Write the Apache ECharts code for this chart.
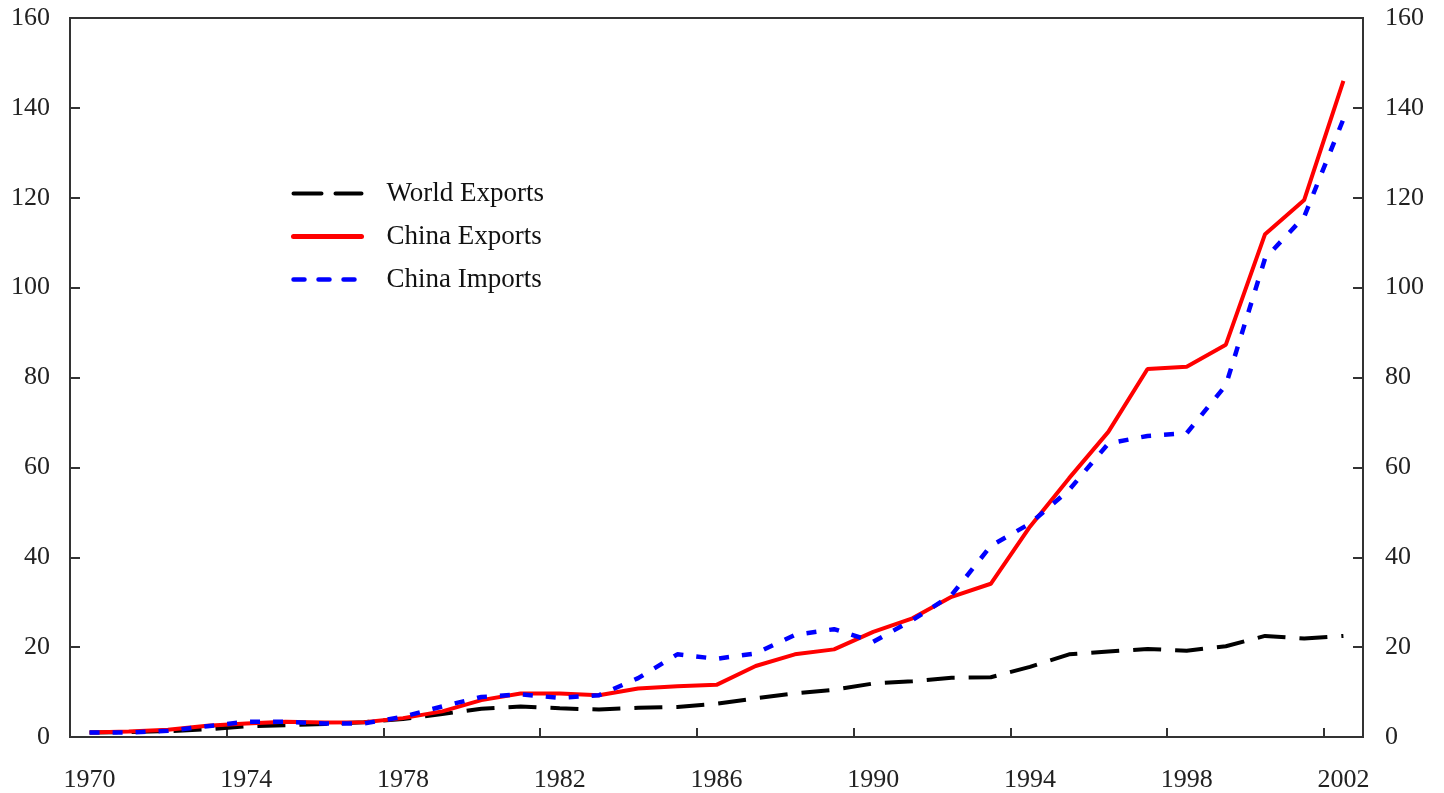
<!DOCTYPE html>
<html>
<head>
<meta charset="utf-8">
<script src="https://cdn.jsdelivr.net/npm/echarts@6/dist/echarts.min.js"></script>
<style>html,body{margin:0;padding:0;background:#fff;}#c{width:1444px;height:793px;}</style>
</head>
<body>
<div id="c"></div>
<script>
var years = ['1970','1971','1972','1973','1974','1975','1976','1977','1978','1979','1980','1981','1982','1983','1984','1985','1986','1987','1988','1989','1990','1991','1992','1993','1994','1995','1996','1997','1998','1999','2000','2001','2002'];
var worldExports = [1.0,1.1,1.3,1.7,2.4,2.6,2.9,3.3,4.0,5.1,6.3,6.8,6.4,6.1,6.5,6.7,7.4,8.6,9.7,10.5,11.9,12.4,13.2,13.3,15.6,18.4,19.0,19.6,19.2,20.2,22.5,21.9,22.5];
var chinaExports = [1.0,1.2,1.6,2.5,3.0,3.4,3.2,3.3,4.2,5.7,8.2,9.7,9.7,9.3,10.8,11.3,11.6,15.8,18.4,19.5,23.4,26.4,31.2,34.1,46.8,57.6,67.9,81.9,82.4,87.3,111.9,119.5,146.0];
var chinaImports = [1.0,1.0,1.4,2.4,3.4,3.4,3.0,3.0,4.5,6.8,8.9,9.5,8.7,9.3,13.1,18.4,17.4,18.6,22.7,24.0,21.2,26.0,31.6,42.5,47.5,55.0,65.3,67.0,67.6,78.3,106.5,115.8,137.5];

var font = 'Liberation Serif';
var axisLine = {show: true, lineStyle: {color: '#333', width: 2}};
var styles = {
  'World Exports': {color: '#000', width: 4, type: [28, 14]},
  'China Exports': {color: '#ff0000', width: 5, type: 'solid'},
  'China Imports': {color: '#0000ff', width: 4.5, type: [11, 14]}
};
var chart = echarts.init(document.getElementById('c'));
chart.setOption({
  animation: false,
  backgroundColor: '#fff',
  textStyle: {fontFamily: font},
  grid: {left: 70, right: 81, top: 18, bottom: 56, show: true, borderColor: '#333', borderWidth: 2, containLabel: false},
  legend: {
    orient: 'vertical', left: 286, top: 175,
    itemWidth: 68, itemHeight: 14, itemGap: 16,
    itemStyle: {opacity: 0},
    textStyle: {fontFamily: font, fontSize: 27, color: '#111', padding: [0, 0, 0, 20]},
    data: ['World Exports', 'China Exports', 'China Imports'].map(function (n) {
      return {name: n, lineStyle: {color: styles[n].color, width: styles[n].width, type: styles[n].type, cap: 'round'}, itemStyle: {opacity: 0}};
    })
  },
  xAxis: {
    type: 'category', data: years, boundaryGap: true,
    axisLine: axisLine,
    axisTick: {show: true, inside: true, length: 9, interval: 3, alignWithLabel: false, lineStyle: {color: '#333', width: 2}},
    axisLabel: {interval: 3, margin: 30, fontFamily: font, fontSize: 26, color: '#222'},
    splitLine: {show: false}
  },
  yAxis: [
    {type: 'value', min: 0, max: 160, interval: 20, position: 'left',
     axisLine: axisLine,
     axisTick: {show: true, inside: true, length: 10, lineStyle: {color: '#333', width: 2}},
     axisLabel: {margin: 20, fontFamily: font, fontSize: 26, color: '#222'},
     splitLine: {show: false}},
    {type: 'value', min: 0, max: 160, interval: 20, position: 'right',
     axisLine: axisLine,
     axisTick: {show: true, inside: true, length: 10, lineStyle: {color: '#333', width: 2}},
     axisLabel: {margin: 22, fontFamily: font, fontSize: 26, color: '#222'},
     splitLine: {show: false}}
  ],
  series: [
    {name: 'World Exports', type: 'line', data: worldExports, showSymbol: false, symbol: 'none',
     itemStyle: {color: '#000'},
     lineStyle: {color: '#000', width: 4, type: [28, 14]}},
    {name: 'China Exports', type: 'line', data: chinaExports, showSymbol: false, symbol: 'none',
     itemStyle: {color: '#ff0000'},
     lineStyle: {color: '#ff0000', width: 4, type: 'solid'}},
    {name: 'China Imports', type: 'line', data: chinaImports, showSymbol: false, symbol: 'none',
     itemStyle: {color: '#0000ff'},
     lineStyle: {color: '#0000ff', width: 4.5, type: [10, 13]}}
  ]
});
</script>
</body>
</html>
